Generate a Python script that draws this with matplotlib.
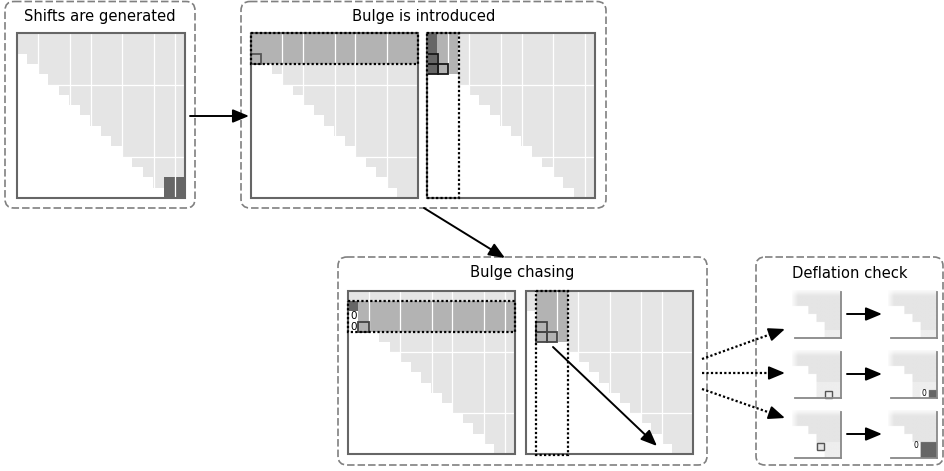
import numpy as np
import matplotlib.pyplot as plt
from matplotlib.patches import Rectangle, FancyBboxPatch
from matplotlib.colors import ListedColormap, to_rgb

N = 16

titles = ['Shifts are generated', 'Bulge is introduced', 'Bulge chasing', 'Deflation check']

# white block separators of each big matrix (in cell units)
m1_vlines, m1_hlines = [2, 5, 7, 10, 13, 15], [5, 12]
m2l_vlines, m2l_hlines = [3, 5, 8, 10, 13], [5, 12]
m2r_vlines, m2r_hlines = [2, 4, 7, 9, 12, 15], [5, 12]
m3l_vlines, m3l_hlines = [2, 5, 8, 10, 13, 15], [6, 12]
m3r_vlines, m3r_hlines = [3, 5, 8, 11, 13], [6, 12]

# shifts: dark block in the corner
m1_dark = [(14, 14), (14, 15), (15, 14), (15, 15)]
# bulge introduced: reflector applied from left (rows) and right (cols)
m2l_band_rows = [0, 1, 2]
m2l_boxes = [(2, 0)]
m2r_band_rows, m2r_band_cols = [0, 1, 2, 3], [0, 1, 2]
m2r_dark = [(0, 0), (1, 0), (2, 0), (3, 0)]
m2r_boxes = [(2, 0), (3, 0), (3, 1)]
# bulge chasing
m3l_band_rows = [1, 2, 3]
m3l_dark = [(1, 0)]
m3l_zeros = [(2, 0), (3, 0)]
m3l_boxes = [(3, 1)]
m3r_band_rows, m3r_band_cols = [0, 1, 2, 3, 4], [1, 2, 3]
m3r_boxes = [(3, 1), (4, 1), (4, 2)]

# deflation check thumbnails (6x6 corner): first nonzero column per row
th_starts = [[0, 0, 2, 3, 4, 4], [0, 0, 2, 3, 4, 4],
             [0, 0, 2, 3, 3, 3], [0, 0, 2, 3, 3, 3],
             [0, 0, 2, 3, 3, 4], [0, 0, 2, 3, 3, 4]]
th_light = [[(5, 4), (5, 5)], [(5, 4), (5, 5)],
            [(4, 3), (4, 4), (4, 5), (5, 3), (5, 4), (5, 5)],
            [(4, 3), (4, 4), (4, 5), (5, 3)],
            [(4, 4), (4, 5), (5, 4), (5, 5)], []]
th_dark = [[], [], [], [(5, 5)], [], [(4, 4), (4, 5), (5, 4), (5, 5)]]
th_zeros = [[], [], [], [(5, 4)], [], [(4, 3)]]
th_boxes = [[], [], [(5, 4)], [], [(4, 3)], []]

colors = ['#ffffff', '#e5e5e5', '#b3b3b3', '#666666', '#eeeeee']
cmap = ListedColormap(colors)

fig = plt.figure(figsize=(9.44, 4.71), dpi=100)
ax = fig.add_axes([0, 0, 1, 1])


def hessenberg(n):
    code = np.zeros((n, n), dtype=int)
    for i in range(n):
        code[i, max(0, i - 1):] = 1
    return code


def draw_matrix(code, frame, vlines, hlines, boxes=(), box_ec='#444444', zeros=()):
    x0, y0, x1, y1 = frame
    cw, ch = (x1 - x0) / N, (y1 - y0) / N
    ax.imshow(code, cmap=cmap, vmin=-0.5, vmax=4.5, extent=(x0, x1, y1, y0),
              interpolation='nearest', aspect='auto', zorder=1)
    for v in vlines:
        ax.plot([x0 + v * cw] * 2, [y0, y1], color='white', lw=0.9, zorder=2)
    for h in hlines:
        ax.plot([x0, x1], [y0 + h * ch] * 2, color='white', lw=0.9, zorder=2)
    for (i, j) in boxes:
        ax.add_patch(Rectangle((x0 + j * cw, y0 + i * ch), cw, ch, fill=False,
                               ec=box_ec, lw=1.3, zorder=3))
    for (i, j) in zeros:
        ax.text(x0 + (j + 0.5) * cw, y0 + (i + 0.5) * ch, '0', fontsize=7.5,
                ha='center', va='center', zorder=3)
    ax.add_patch(Rectangle((x0, y0), x1 - x0, y1 - y0, fill=False,
                           ec='#666666', lw=1.5, zorder=4))
    return cw, ch


def dotted_rect(x, y, w, h):
    ax.add_patch(Rectangle((x, y), w, h, fill=False, ec='black', lw=1.6,
                           ls=(0, (1, 1)), zorder=5))


def arrow(p0, p1, dotted=False):
    p0, p1 = np.array(p0, float), np.array(p1, float)
    style = dict(arrowstyle='-|>,head_length=0.65,head_width=0.27', color='black',
                 lw=1.4, mutation_scale=15, shrinkA=0, shrinkB=0)
    if dotted:
        d = (p1 - p0) / np.hypot(*(p1 - p0))
        mid = p1 - 12 * d
        ax.plot([p0[0], mid[0]], [p0[1], mid[1]], color='black', lw=1.6,
                ls=(0, (1, 1)), zorder=6)
        ax.annotate('', xy=p1, xytext=mid, arrowprops=style, zorder=6)
    else:
        ax.annotate('', xy=p1, xytext=p0, arrowprops=style, zorder=6)


def panel(x0, y0, x1, y1, title, ty):
    ax.add_patch(FancyBboxPatch((x0, y0), x1 - x0, y1 - y0,
                                boxstyle='round,pad=0,rounding_size=9', fill=False,
                                ec='#808080', lw=1.2, ls=(0, (4.5, 1.8)), zorder=0))
    ax.text((x0 + x1) / 2, ty, title, fontsize=10.6, ha='center', va='center',
            family='DejaVu Sans')


# panels
panel(5, 1.5, 195, 208, titles[0], 17)
panel(241, 1.5, 606, 208, titles[1], 16)
panel(338, 257, 707, 465, titles[2], 273)
panel(756, 257, 943, 465, titles[3], 273)

# 1: shifts are generated
c1 = hessenberg(N)
for (i, j) in m1_dark:
    c1[i, j] = 3
draw_matrix(c1, (17, 33, 185, 198), m1_vlines, m1_hlines)

# 2: bulge is introduced
c2l = hessenberg(N)
c2l[m2l_band_rows, :] = 2
f = (251, 33, 418, 198)
cw, ch = draw_matrix(c2l, f, m2l_vlines, m2l_hlines, m2l_boxes, '#555555')
dotted_rect(f[0], f[1], f[2] - f[0], len(m2l_band_rows) * ch)

c2r = hessenberg(N)
c2r[np.ix_(m2r_band_rows, m2r_band_cols)] = 2
for (i, j) in m2r_dark:
    c2r[i, j] = 3
f = (427, 33, 595, 198)
cw, ch = draw_matrix(c2r, f, m2r_vlines, m2r_hlines, m2r_boxes, '#1a1a1a')
dotted_rect(f[0], f[1], len(m2r_band_cols) * cw, f[3] - f[1])

# 3: bulge chasing
c3l = hessenberg(N)
c3l[m3l_band_rows, :] = 2
for (i, j) in m3l_dark:
    c3l[i, j] = 3
for (i, j) in m3l_zeros:
    c3l[i, j] = 0
f = (348, 291, 515, 454)
cw, ch = draw_matrix(c3l, f, m3l_vlines, m3l_hlines, m3l_boxes, '#444444', m3l_zeros)
dotted_rect(f[0], f[1] + m3l_band_rows[0] * ch, f[2] - f[0], len(m3l_band_rows) * ch)

c3r = hessenberg(N)
c3r[np.ix_(m3r_band_rows, m3r_band_cols)] = 2
f = (526, 291, 693, 454)
cw, ch = draw_matrix(c3r, f, m3r_vlines, m3r_hlines, m3r_boxes, '#444444')
dotted_rect(f[0] + m3r_band_cols[0] * cw, f[1], len(m3r_band_cols) * cw, f[3] - f[1] + 1)
arrow((553, 347), (657, 446))

# 4: deflation check thumbnails
th_left = [792, 888]
th_top = [290, 350, 410]
tw, th = 49, 48
k = 10
for t in range(6):
    tx = th_left[t % 2]
    ty = th_top[t // 2]
    code = np.zeros((6, 6), dtype=int)
    for i, s in enumerate(th_starts[t]):
        code[i, s:] = 1
    for (i, j) in th_light[t]:
        code[i, j] = 4
    for (i, j) in th_dark[t]:
        code[i, j] = 3
    for (i, j) in th_zeros[t]:
        code[i, j] = 0
    rgb = np.array([to_rgb(colors[c]) for c in code.ravel()])
    rgb = rgb.reshape(6, 6, 3).repeat(k, axis=0).repeat(k, axis=1)
    ramp = np.clip(0.15 + (np.arange(6 * k) + 0.5) / (0.9 * k), 0, 1)
    fade = ramp[:, None] * ramp[None, :]
    img = 1 - fade[:, :, None] * (1 - rgb)
    ax.imshow(img, extent=(tx, tx + tw, ty + th, ty), interpolation='bilinear',
              aspect='auto', zorder=1)
    cw, ch = tw / 6, th / 6
    for (i, j) in th_boxes[t]:
        ax.add_patch(Rectangle((tx + j * cw + 0.5, ty + i * ch + 0.5), cw - 1, ch - 1,
                               fill=False, ec='#555555', lw=1.0, zorder=3))
    for (i, j) in th_zeros[t]:
        ax.text(tx + (j + 0.45) * cw, ty + (i + 0.5) * ch, '0', fontsize=5.5,
                ha='center', va='center', zorder=3)
    ax.plot([tx + tw, tx + tw], [ty + 2, ty + th], color='#888888', lw=1.3, zorder=4)
    ax.plot([tx + 3, tx + tw], [ty + th, ty + th], color='#888888', lw=1.3, zorder=4)

for ty in th_top:
    arrow((847, ty + 24), (882, ty + 24))

# connecting arrows
arrow((190, 116), (249, 116))
arrow((424, 208), (505, 258))
arrow((702, 359), (785, 329), dotted=True)
arrow((702, 373), (785, 373), dotted=True)
arrow((702, 389), (785, 418), dotted=True)

ax.set_xlim(0, 944)
ax.set_ylim(471, 0)
ax.axis('off')
fig.savefig('out.png', dpi=100)
